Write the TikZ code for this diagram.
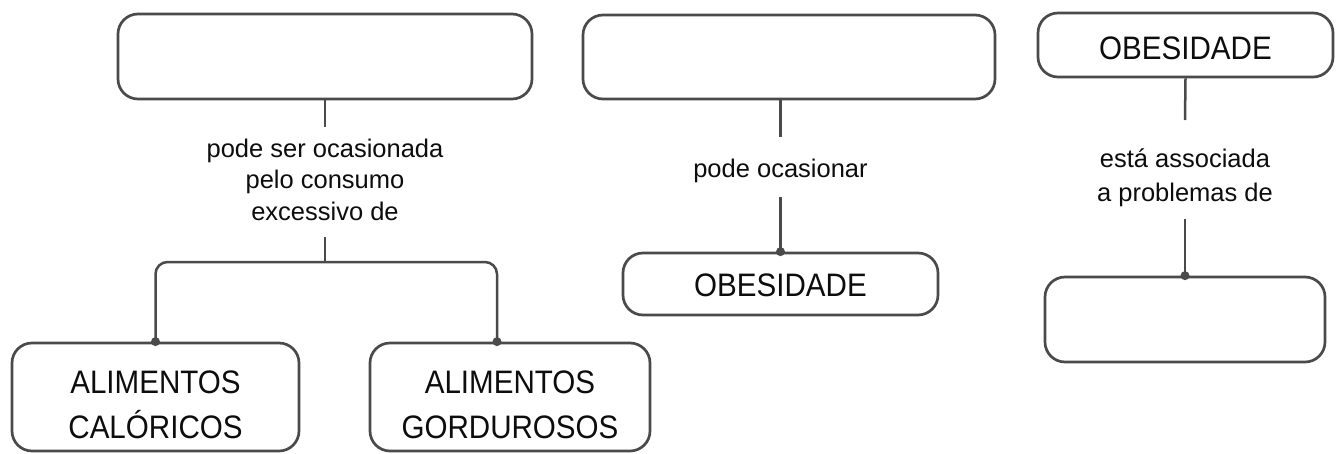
\documentclass[tikz,border=0pt]{standalone}
\usepackage{fontspec}
\setmainfont{Liberation Sans}
\newfontfamily\bigfont{Liberation Sans}[FakeStretch=0.91]
\definecolor{linec}{HTML}{4A4A4A}
\definecolor{textc}{HTML}{0D0D0D}
\begin{document}
\begin{tikzpicture}[x=1pt,y=-1pt,
  box/.style={draw=linec, line width=2.7pt, rounded corners=20pt, inner sep=0pt,
              align=center, text=textc, font=\bigfont\fontsize{32.5}{45}\selectfont},
  lab/.style={inner sep=0pt, align=center, text=textc, font=\fontsize{25.5}{31.5}\selectfont},
  conn/.style={draw=linec, line width=2.5pt},
  dot/.style={fill=linec}]
\useasboundingbox[fill=white] (0,0) rectangle (1341,453);

% boxes
\node[box, minimum width=414pt, minimum height=85pt] (A) at (325,56.5) {};
\node[box, minimum width=412pt, minimum height=84pt] (B) at (789,57) {};
\node[box, minimum width=295pt, minimum height=64pt] (C) at (1185.5,45) {\rule{0pt}{29pt}OBESIDADE};
\node[box, minimum width=287pt, minimum height=108pt] (CAL) at (155.5,397) {\rule{0pt}{39pt}ALIMENTOS\\CALÓRICOS};
\node[box, minimum width=280pt, minimum height=108pt] (GORD) at (510,397) {\rule{0pt}{39pt}ALIMENTOS\\GORDUROSOS};
\node[box, minimum width=315pt, minimum height=62pt] (OB) at (780.5,284) {\rule{0pt}{25pt}OBESIDADE};
\node[box, minimum width=280pt, minimum height=85pt] (D) at (1185,319.5) {};

% linking phrases
\node[lab, anchor=north] (L1) at (325,138.4) {pode ser ocasionada\\pelo consumo\\excessivo de};
\node[lab, anchor=north] (L2) at (780.5,158.4) {pode ocasionar};
\node[lab, anchor=north, font=\fontsize{25.5}{34.5}\selectfont] (L3) at (1185,148.4) {está associada\\a problemas de};

% left tree
\coordinate (J) at (325,262);
\draw[conn] (A.south) -- ([yshift=11.4pt]L1.north);
\draw[conn] ([yshift=-16pt]L1.south) -- (J);
\draw[conn, rounded corners=12pt] (CAL.north) |- (J) -| ([xshift=-13pt]GORD.north);
\fill[dot] (CAL.north) circle (4.5pt);
\fill[dot] ([xshift=-13pt]GORD.north) circle (4.5pt);

% middle
\draw[conn] (L2.north |- B.south) -- ([yshift=21.4pt]L2.north);
\draw[conn] ([yshift=-14.6pt]L2.south) -- (OB.north);
\fill[dot] (OB.north) circle (4.5pt);

% right
\draw[conn] (C.south) -- ([yshift=28.4pt]L3.north);
\draw[conn] ([yshift=-11.6pt]L3.south) -- (D.north);
\fill[dot] (D.north) circle (4.5pt);
\end{tikzpicture}
\end{document}
